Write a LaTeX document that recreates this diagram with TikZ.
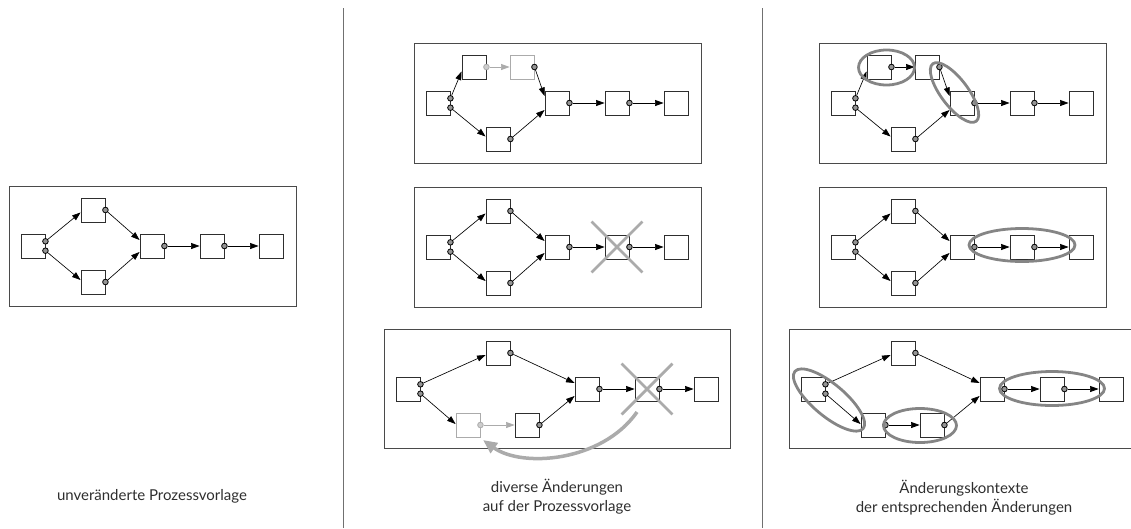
\documentclass[tikz,border=0pt]{standalone}
\usepackage{fontspec}
\setmainfont{Lato}
\usetikzlibrary{arrows.meta,shapes.geometric,shapes.misc}

\definecolor{inkgray}{HTML}{2E2E2E}
\definecolor{framegray}{HTML}{4A4A4A}
\definecolor{ghostgray}{HTML}{ABABAB}
\definecolor{portfill}{HTML}{959595}
\definecolor{ctxgray}{HTML}{858585}
\definecolor{sepgray}{HTML}{707070}

\tikzset{
  panel/.style={draw=framegray, line width=0.9pt},
  task/.style={draw=inkgray, line width=0.9pt, fill=white, minimum size=24pt, inner sep=0pt},
  ghosttask/.style={task, draw=ghostgray},
  port/.style={circle, draw=black, fill=portfill, line width=0.8pt, minimum size=5.6pt, inner sep=0pt},
  ghostport/.style={port, draw=ghostgray, fill=ghostgray!60},
  flow/.style={-{Triangle[length=8.5pt,width=6pt]}, line width=0.65pt, black},
  ghostflow/.style={flow, ghostgray},
  strike/.style={cross out, draw=ghostgray, line width=2.8pt, minimum size=48pt, inner sep=0pt},
  backflow/.style={-{Triangle[length=14pt,width=12pt]}, draw=ghostgray, line width=3.5pt},
  context/.style={ellipse, draw=ctxgray, line width=2.8pt, inner sep=0pt},
  separator/.style={draw=sepgray, line width=0.9pt},
  caption/.style={anchor=base, inner sep=0pt, text=inkgray, font=\fontsize{15}{18}\selectfont}
}

% basic template: start, split into two branches, join, then two tasks in a row
\newcommand{\procbase}[1]{%
  \draw[panel] (0,0) rectangle (287,120);
  \node[task] (#1A) at (24,60) {};
  \node[task] (#1B) at (84,24) {};
  \node[task] (#1C) at (84,96) {};
  \node[task] (#1D) at (143,60) {};
  \node[task] (#1E) at (203,60) {};
  \node[task] (#1F) at (262,60) {};
  \node[port] (#1a1) at ([yshift=4.7pt]#1A.east) {};
  \node[port] (#1a2) at ([yshift=-4.7pt]#1A.east) {};
  \node[port] (#1b) at (#1B.east) {};
  \node[port] (#1c) at (#1C.east) {};
  \node[port] (#1d) at (#1D.east) {};
  \node[port] (#1e) at (#1E.east) {};
  \draw[flow] (#1a1) -- ([yshift=-2.5pt]#1B.west);
  \draw[flow] (#1a2) -- ([yshift=2pt]#1C.west);
  \draw[flow] (#1b) -- ([yshift=6pt]#1D.west);
  \draw[flow] (#1c) -- ([yshift=-6pt]#1D.west);
  \draw[flow] (#1d) -- (#1D.east -| #1E.west);
  \draw[flow] (#1e) -- (#1E.east -| #1F.west);
}

% template with an extra task inserted in the upper branch (#2: style of the new task)
\newcommand{\procinsert}[2]{%
  \draw[panel] (0,0) rectangle (287,120);
  \node[task] (#1A) at (24,60) {};
  \node[task] (#1B) at (60,24) {};
  \node[#2task] (#1G) at (108,24) {};
  \node[task] (#1C) at (84,96) {};
  \node[task] (#1D) at (143,60) {};
  \node[task] (#1E) at (203,60) {};
  \node[task] (#1F) at (262,60) {};
  \node[port] (#1a1) at ([yshift=4.7pt]#1A.east) {};
  \node[port] (#1a2) at ([yshift=-4.7pt]#1A.east) {};
  \node[#2port] (#1b) at (#1B.east) {};
  \node[port] (#1g) at (#1G.east) {};
  \node[port] (#1c) at (#1C.east) {};
  \node[port] (#1d) at (#1D.east) {};
  \node[port] (#1e) at (#1E.east) {};
  \draw[flow] (#1a1) -- ([yshift=-4.5pt]#1B.west);
  \draw[#2flow] (#1b) -- (#1G.west);
  \draw[flow] (#1a2) -- ([yshift=2.5pt]#1C.west);
  \draw[flow] (#1g) -- ([yshift=7pt]#1D.west);
  \draw[flow] (#1c) -- ([yshift=-7pt]#1D.west);
  \draw[flow] (#1d) -- (#1D.east -| #1E.west);
  \draw[flow] (#1e) -- (#1E.east -| #1F.west);
}

% wider template with an extra task in the lower branch (#2: style of the new task)
\newcommand{\procwide}[2]{%
  \draw[panel] (0,0) rectangle (346,119);
  \node[task] (#1A) at (24,60) {};
  \node[task] (#1B) at (114,24) {};
  \node[#2task] (#1G) at (84,96) {};
  \node[task] (#1C) at (143,96) {};
  \node[task] (#1D) at (203,60) {};
  \node[task] (#1E) at (263,60) {};
  \node[task] (#1F) at (322,60) {};
  \node[port] (#1a1) at ([yshift=4.7pt]#1A.east) {};
  \node[port] (#1a2) at ([yshift=-4.7pt]#1A.east) {};
  \node[port] (#1b) at (#1B.east) {};
  \node[#2port] (#1g) at (#1G.east) {};
  \node[port] (#1c) at (#1C.east) {};
  \node[port] (#1d) at (#1D.east) {};
  \node[port] (#1e) at (#1E.east) {};
  \draw[flow] (#1a1) -- ([yshift=-2pt]#1B.west);
  \draw[flow] (#1a2) -- ([yshift=1pt]#1G.west);
  \draw[#2flow] (#1g) -- (#1G.east -| #1C.west);
  \draw[flow] (#1b) -- ([yshift=6pt]#1D.west);
  \draw[flow] (#1c) -- ([yshift=-7pt]#1D.west);
  \draw[flow] (#1d) -- (#1D.east -| #1E.west);
  \draw[flow] (#1e) -- (#1E.east -| #1F.west);
}

\begin{document}
\begin{tikzpicture}[x=1pt,y=-1pt]
\clip (0,0) rectangle (1131,528);

% column separators
\coordinate (sepAt) at (343,8);
\coordinate (sepAb) at (343,528);
\coordinate (sepBt) at (762,8);
\coordinate (sepBb) at (762,528);
\draw[separator] (sepAt) -- (sepAb);
\draw[separator] (sepBt) -- (sepBb);

% left column: unchanged template
\begin{scope}[shift={(9,186)}]
  \procbase{l}
\end{scope}

% middle column: changes
\begin{scope}[shift={(414,43)}]
  \procinsert{mt}{ghost}
\end{scope}
\begin{scope}[shift={(414,187)}]
  \procbase{mm}
  \node[strike] (mmX) at (mmE) {};
\end{scope}
\begin{scope}[shift={(384,329)}]
  \procwide{mb}{ghost}
  \node[strike] (mbX) at (mbE) {};
\end{scope}
\coordinate (moveFrom) at (637,412);
\coordinate (moveTo) at (483,440);
\draw[backflow] (moveFrom) .. controls (602,462) and (522,468) .. (moveTo);

% right column: change contexts
\begin{scope}[shift={(819,43)}]
  \procinsert{rt}{}
\end{scope}
\node[context, minimum width=56pt, minimum height=35pt] (rtK1) at (886.5,67.5) {};
\node[context, minimum width=72pt, minimum height=27pt, rotate=-53] (rtK2) at (954.5,92.5) {};

\begin{scope}[shift={(819,187)}]
  \procbase{rm}
\end{scope}
\node[context, minimum width=106pt, minimum height=33pt] (rmK) at (1022,245) {};

\begin{scope}[shift={(789,329)}]
  \procwide{rb}{}
\end{scope}
\node[context, minimum width=89pt, minimum height=32pt, rotate=-40] (rbK1) at (829,400) {};
\node[context, minimum width=73pt, minimum height=34pt] (rbK2) at (920,425.5) {};
\node[context, minimum width=105pt, minimum height=34pt] (rbK3) at (1052,388.5) {};

% captions
\node[caption] (capL) at (152,500.5) {unveränderte Prozessvorlage};
\node[caption] (capM1) at (557,492.5) {diverse Änderungen};
\node[caption] (capM2) at (557,511.5) {auf der Prozessvorlage};
\node[caption] (capR1) at (964,493) {Änderungskontexte};
\node[caption] (capR2) at (964,512) {der entsprechenden Änderungen};
\end{tikzpicture}
\end{document}
